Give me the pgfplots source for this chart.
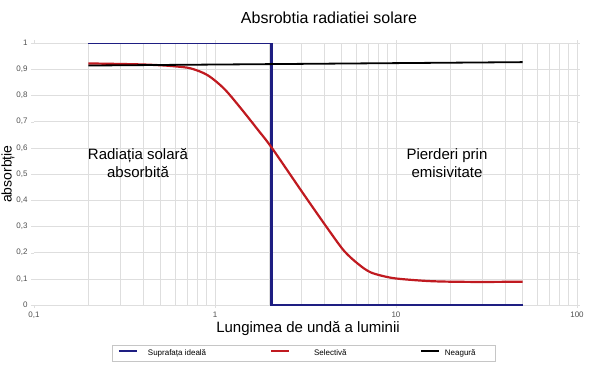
\documentclass[border=0pt]{standalone}
\usepackage{pgfplots}
\pgfplotsset{compat=1.18}
\usepackage{fontspec}
\setmainfont{Liberation Sans}
\definecolor{idealblue}{RGB}{30,30,130}
\definecolor{selred}{RGB}{192,26,32}
\definecolor{gridgray}{RGB}{222,222,222}
\definecolor{ticktext}{RGB}{80,80,80}
\begin{document}
\begin{tikzpicture}
\useasboundingbox (-34pt,-63pt) rectangle (566pt,305pt);
\begin{axis}[
  at={(0pt,0pt)}, anchor=south west,
  scale only axis, width=543pt, height=262pt,
  xmode=log, xmin=0.1, xmax=100, ymin=0, ymax=1,
  axis line style={draw=none},
  xtick={1,10,100}, xticklabels={1,10,100},
  extra x ticks={0.1}, extra x tick labels={0{,}1},
  extra x tick style={grid=none},
  minor xtick={0.2,0.3,0.4,0.5,0.6,0.7,0.8,0.9,2,3,4,5,6,7,8,9,20,30,40,50,60,70,80,90},
  ytick={0,0.1,0.2,0.3,0.4,0.5,0.6,0.7,0.8,0.9,1},
  yticklabel style={/pgf/number format/.cd, fixed, use comma, precision=1, assume math mode=true},
  grid=both,
  major grid style={gridgray, line width=0.6pt},
  minor grid style={gridgray, line width=0.6pt},
  tick align=outside, major tick length=3pt, minor tick length=0pt,
  tick style={gridgray},
  tick label style={font=\fontsize{8}{9}\selectfont, text=ticktext},
  legend columns=3,
  legend style={at={(0.496,-0.185)}, anchor=center, draw=gray!45,
    inner xsep=6pt, inner ysep=4pt, font=\fontsize{8}{9}\selectfont,
    nodes={inner sep=0pt}},
  legend image code/.code={\draw[#1] (0pt,2.8pt) -- (18pt,2.8pt);},
]
\addplot[idealblue, line width=2.2pt] coordinates {(0.2,1) (2.05,1) (2.05,0) (50,0)};
\addlegendentry{\makebox[132pt][l]{\hspace{10pt}Suprafața ideală}}
\addplot[selred, line width=2.2pt, smooth] coordinates {
(0.2,0.922)(0.3,0.920)(0.4,0.918)(0.5,0.915)(0.6,0.911)(0.736,0.903)
(0.911,0.877)(1.125,0.825)(1.392,0.75)(1.72,0.67)(2.06,0.60)
(3.11,0.42)(4.21,0.29)(5.16,0.207)(6.17,0.157)(7.28,0.124)(9.38,0.104)
(12.1,0.096)(15.6,0.091)(20,0.089)(30,0.088)(50,0.089)};
\addlegendentry{\makebox[130pt][l]{\hspace{24pt}Selectivă}}
\addplot[black, line width=1.8pt] coordinates {(0.2,0.914) (50,0.927)};
\addlegendentry{\makebox[49pt][l]{\hspace{5pt}Neagură}}
\end{axis}
\node at (295pt,287pt) {\fontsize{16}{19}\selectfont Absrobtia radiatiei solare};
\node[rotate=90] at (-26pt,131pt) {\fontsize{14}{17}\selectfont absorbție};
\node at (274pt,-24pt) {\fontsize{15}{18}\selectfont Lungimea de undă a luminii};
\node[align=center, font=\fontsize{15}{17.5}\selectfont] at (104pt,142pt) {Radiația solară\\absorbită};
\node[align=center, font=\fontsize{15}{17.5}\selectfont] at (413pt,142pt) {Pierderi prin\\emisivitate};
\end{tikzpicture}
\end{document}
